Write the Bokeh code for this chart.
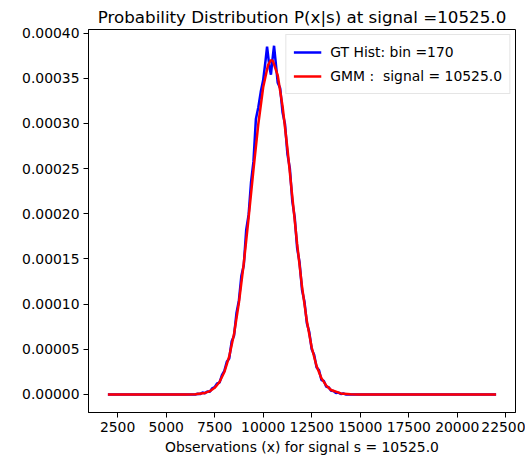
from bokeh.plotting import figure
from bokeh.models import FixedTicker, PrintfTickFormatter, Range1d, Legend, LegendItem
from bokeh.embed import file_html
from bokeh.resources import INLINE

# ---- data ----
hist_x = [2000, 6000, 6500, 6625, 6750, 6875, 7000, 7125, 7250, 7375, 7500, 7625, 7750, 7875,
          8000, 8125, 8250, 8375, 8500, 8625, 8750, 8875, 9000, 9125, 9250, 9375, 9500, 9625,
          9750, 9875, 10000, 10125, 10200, 10250, 10325, 10400, 10475, 10560, 10625, 10750,
          10875, 11000, 11125, 11250, 11375, 11500, 11625, 11750, 11875, 12000, 12125, 12250,
          12375, 12500, 12625, 12750, 12875, 13000, 13125, 13250, 13375, 13500, 13625, 13750,
          13875, 14000, 14125, 14250, 14500, 22000]
hist_y = [0.0, 0.0, 0.0, 0.0000008, 0.0000004, 0.0000021, 0.0000013, 0.0000034, 0.0000029,
          0.0000068, 0.0000081, 0.0000122, 0.0000131, 0.0000214, 0.0000262, 0.0000361,
          0.0000398, 0.0000585, 0.0000651, 0.0000902, 0.0001040, 0.0001310, 0.0001430,
          0.0001820, 0.0001990, 0.0002350, 0.0002580, 0.0003050, 0.0003180, 0.0003350,
          0.0003480, 0.0003700, 0.0003850, 0.0003760, 0.0003620, 0.0003540, 0.0003700,
          0.0003860, 0.0003720, 0.0003450, 0.0003390, 0.0003120, 0.0002990, 0.0002660,
          0.0002500, 0.0002140, 0.0001960, 0.0001620, 0.0001460, 0.0001160, 0.0001030,
          0.0000790, 0.0000690, 0.0000500, 0.0000440, 0.0000300, 0.0000270, 0.0000160,
          0.0000150, 0.0000085, 0.0000080, 0.0000040, 0.0000038, 0.0000015, 0.0000020,
          0.0000005, 0.0000010, 0.0, 0.0, 0.0]

gmm_x = [2000, 6000, 6500, 7000, 7250, 7500, 7750, 8000, 8250, 8500, 8750, 9000, 9250, 9500,
         9750, 10000, 10250, 10400, 10500, 10750, 11000, 11250, 11500, 11750, 12000, 12250,
         12500, 12750, 13000, 13250, 13500, 14000, 14500, 15000, 22000]
gmm_y = [0.0, 0.0, 0.0000003, 0.0000017, 0.0000036, 0.0000073, 0.0000138, 0.0000248,
         0.0000420, 0.0000672, 0.0001016, 0.0001451, 0.0001956, 0.0002490, 0.0002994,
         0.0003400, 0.0003646, 0.0003700, 0.0003692, 0.0003531, 0.0003189, 0.0002720,
         0.0002191, 0.0001666, 0.0001197, 0.0000812, 0.0000520, 0.0000315, 0.0000180,
         0.0000097, 0.0000049, 0.0000011, 0.0000002, 0.0, 0.0]

x_ticks = [2500, 5000, 7500, 10000, 12500, 15000, 17500, 20000, 22500]
y_ticks = [0.0, 0.00005, 0.00010, 0.00015, 0.00020, 0.00025, 0.00030, 0.00035, 0.00040]

title_text = "Probability Distribution P(x|s) at signal =10525.0"
x_label = "Observations (x) for signal s = 10525.0"
hist_label = "GT Hist: bin =170"
gmm_label = "GMM :  signal = 10525.0"

FONT = "DejaVu Sans"

p = figure(width=525, height=458, output_backend="svg", toolbar_location=None,
           x_range=Range1d(1000, 23000), y_range=Range1d(-0.0000200, 0.0004040),
           min_border_left=88, min_border_right=10, min_border_top=29, min_border_bottom=46)

p.title.text = title_text
p.title.align = "center"
p.title.text_font = FONT
p.title.text_font_size = "16.7px"
p.title.text_font_style = "normal"
p.title.text_color = "#000000"
p.title.standoff = 6
p.title.offset = 0

p.grid.visible = False
p.outline_line_color = "#000000"
p.outline_line_width = 1
p.outline_line_alpha = 1
p.background_fill_color = "white"
p.border_fill_color = "white"

for ax in (p.xaxis[0], p.yaxis[0]):
    ax.major_label_text_font = FONT
    ax.major_label_text_font_size = "13.9px"
    ax.major_label_text_color = "#000000"
    ax.axis_line_color = "#000000"
    ax.major_tick_line_color = "#000000"
    ax.major_tick_out = 5
    ax.major_tick_in = 0
    ax.minor_tick_line_color = None
    ax.major_label_standoff = 4

p.xaxis[0].ticker = FixedTicker(ticks=x_ticks)
p.xaxis[0].axis_label = x_label
p.xaxis[0].axis_label_text_font = FONT
p.xaxis[0].axis_label_text_font_size = "13.9px"
p.xaxis[0].axis_label_text_font_style = "normal"
p.xaxis[0].axis_label_text_color = "#000000"
p.xaxis[0].axis_label_standoff = 4

p.yaxis[0].ticker = FixedTicker(ticks=y_ticks)
p.yaxis[0].formatter = PrintfTickFormatter(format="%.5f")

r_hist = p.line(hist_x, hist_y, line_color="#0000ff", line_width=2.5)
r_gmm = p.line(gmm_x, gmm_y, line_color="#ff0000", line_width=2.5)

legend = Legend(items=[LegendItem(label=hist_label, renderers=[r_hist]),
                       LegendItem(label=gmm_label, renderers=[r_gmm])],
                location="top_right")
legend.label_text_font = FONT
legend.label_text_font_size = "13.9px"
legend.label_text_color = "#000000"
legend.border_line_color = "#cccccc"
legend.border_line_width = 1
legend.background_fill_alpha = 0.8
legend.margin = 5
legend.padding = 7
legend.spacing = 4
legend.label_height = 20
legend.glyph_height = 20
legend.glyph_width = 28
legend.label_standoff = 9
p.add_layout(legend)

open("out.html", "w").write(file_html(p, INLINE))
